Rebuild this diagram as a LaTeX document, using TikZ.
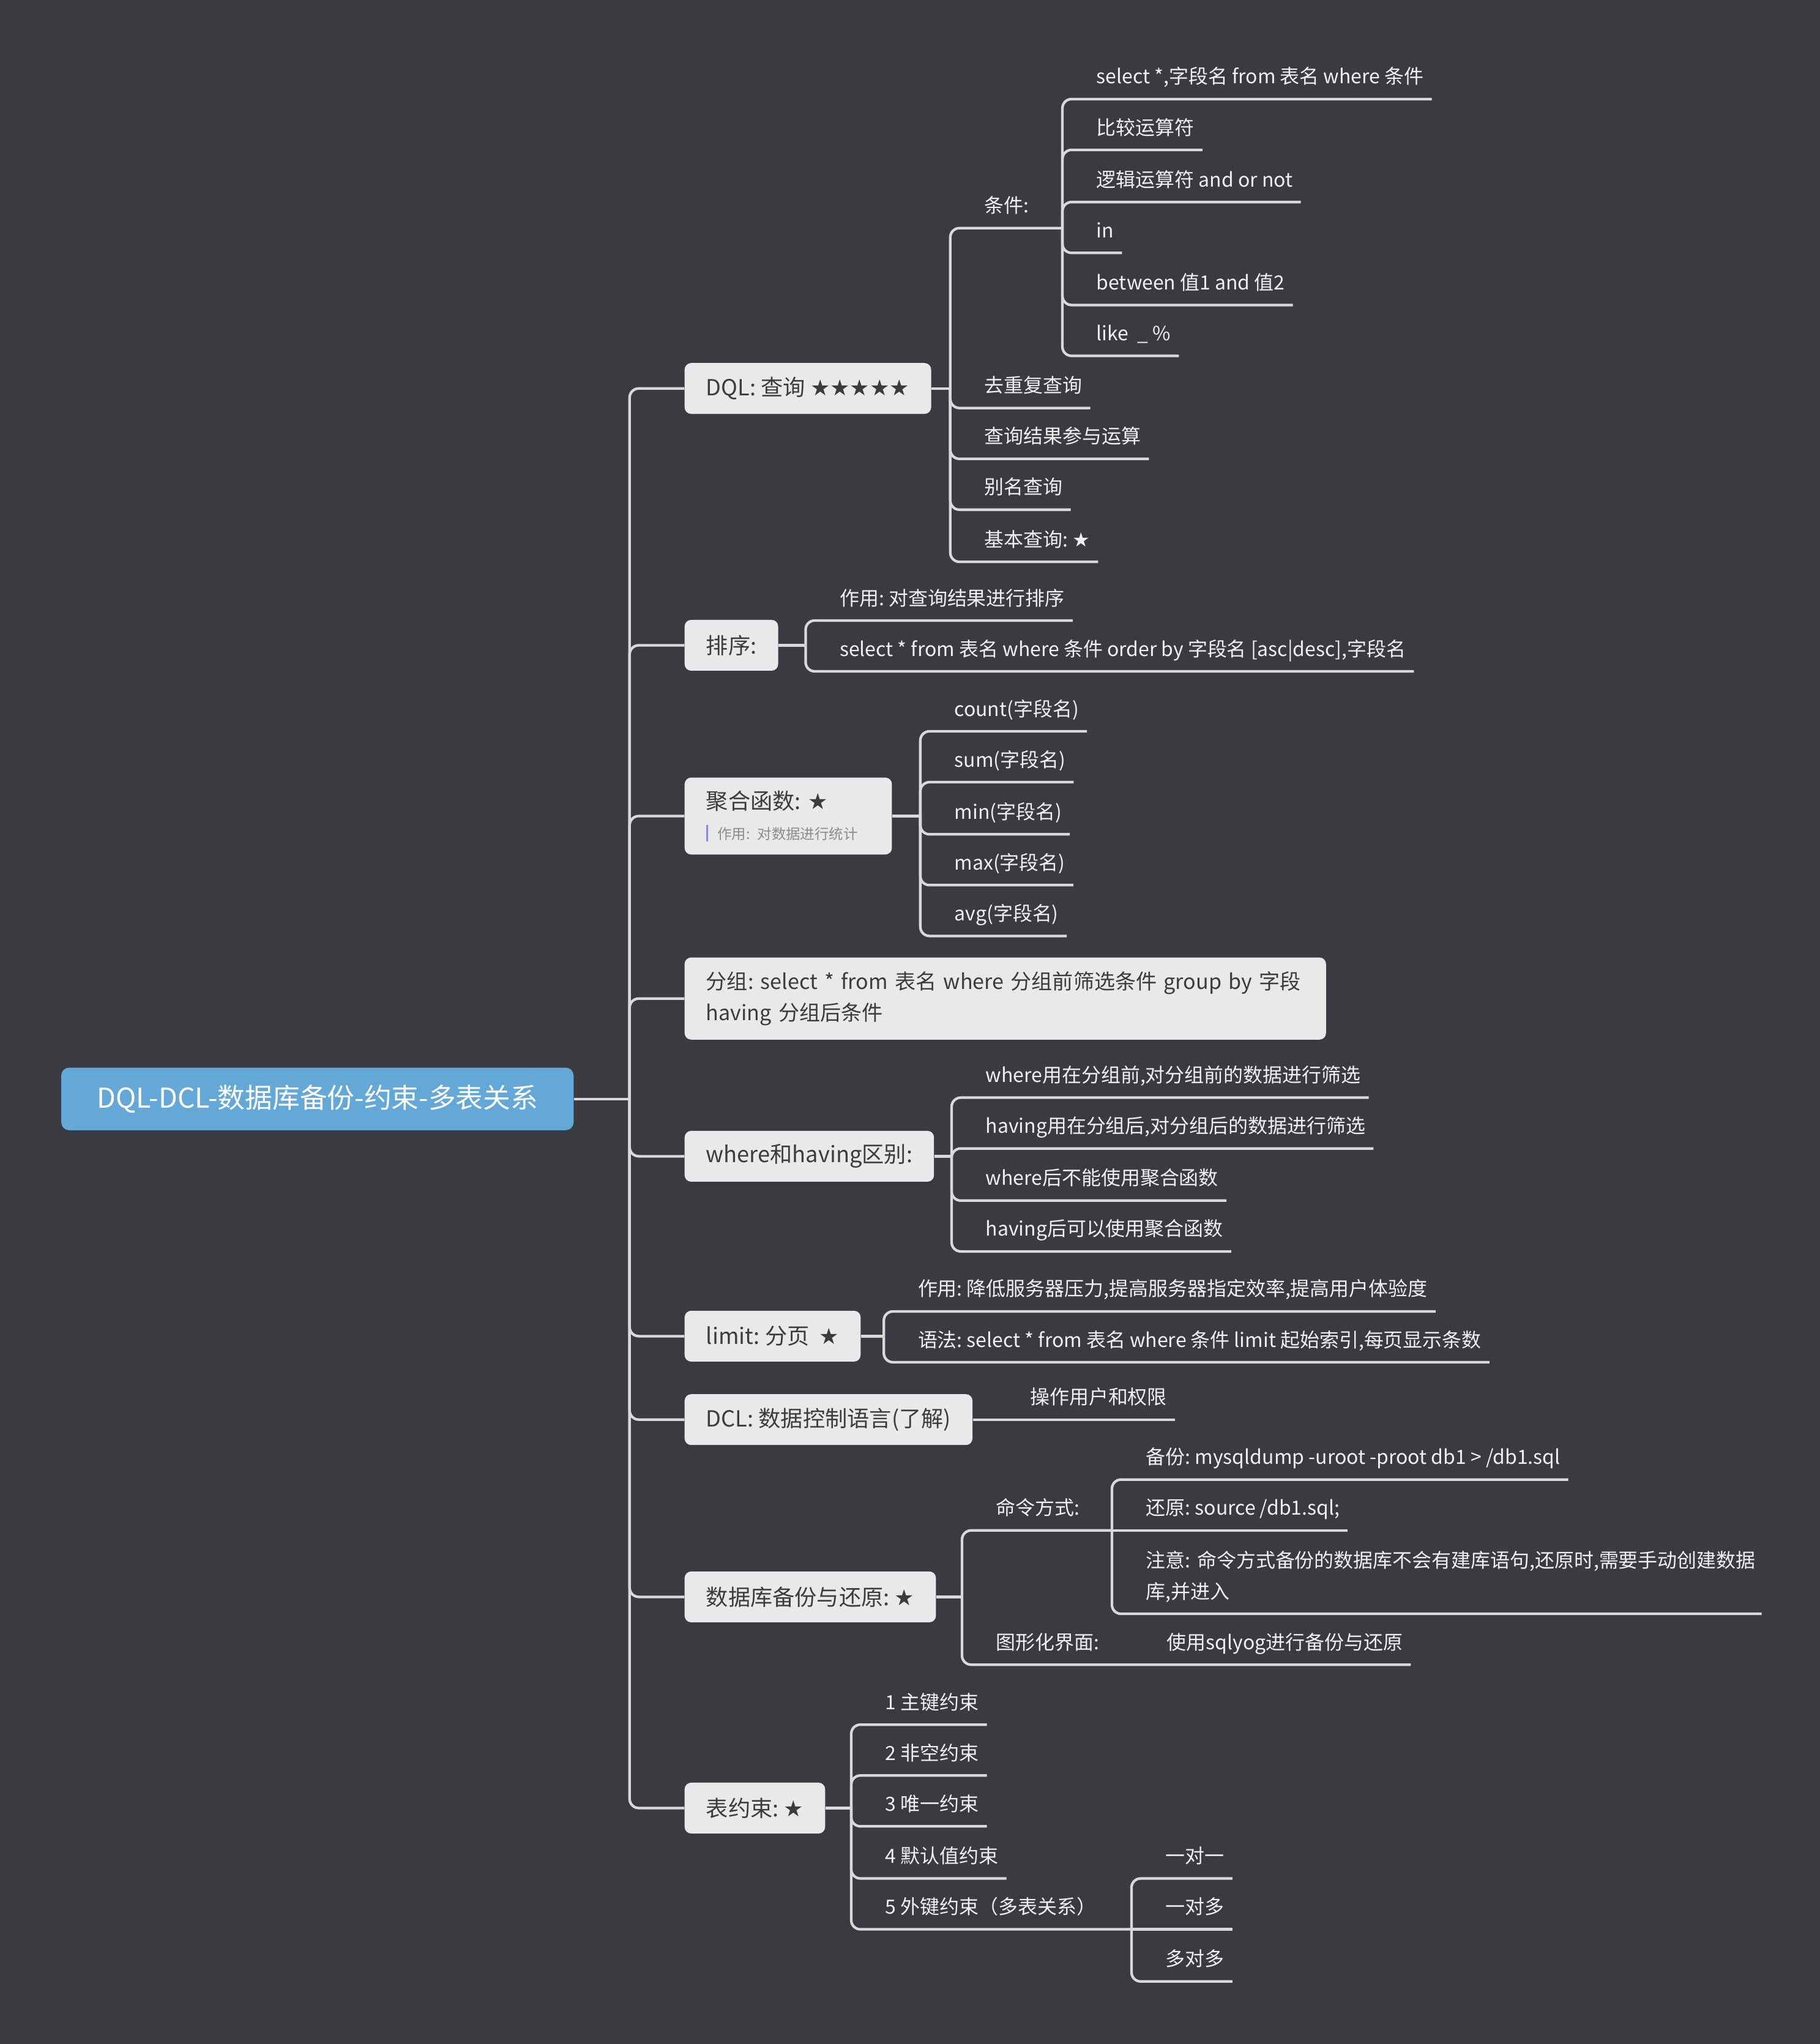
\documentclass[tikz,border=0pt]{standalone}
\usepackage{fontspec}
\setmainfont{Noto Sans CJK SC}
\newfontfamily\symfont{DejaVu Sans}
\frenchspacing
\definecolor{bgc}{RGB}{58,59,65}
\definecolor{linec}{RGB}{217,217,217}
\definecolor{boxc}{RGB}{233,233,235}
\definecolor{boxtext}{RGB}{60,60,62}
\definecolor{rootc}{RGB}{100,168,216}
\definecolor{leaftext}{RGB}{240,240,240}
\definecolor{notec}{RGB}{140,140,142}
\definecolor{barc}{RGB}{140,136,230}
\newcommand\notefont{\fontsize{11pt}{14pt}\selectfont\color{notec}}
\newcommand\starsign{{\symfont ★}}
\tikzset{
    link/.style={draw=linec, line width=2pt, rounded corners=7pt},
    root/.style={fill=rootc, text=white, rounded corners=6pt, minimum width=393pt,
        minimum height=48pt, font=\fontsize{21pt}{24pt}\selectfont},
    topic/.style={fill=boxc, text=boxtext, rounded corners=5pt, anchor=west,
        inner xsep=16.5pt, minimum height=39pt, font=\fontsize{17pt}{24pt}\selectfont},
    leaf/.style={anchor=south west, inner xsep=6pt, inner ysep=7.5pt, text height=11pt,
        text depth=4pt, text=leaftext, font=\fontsize{15pt}{24pt}\selectfont},
}
\begin{document}
\begin{tikzpicture}[x=1pt, y=-1pt]
    \fill[bgc](0, 0) rectangle (1396, 1568);
    \useasboundingbox (0, 0) rectangle (1396, 1568);
    % root and topics
    \node[root](root) at (243.5, 843){DQL-DCL-数据库备份-约束-多表关系};
    \coordinate (rootj) at (483, 843);
    \node[topic](dql) at (525, 298){DQL: 查询 \starsign\starsign\starsign\starsign\starsign};
    \node[topic](sort) at (525, 495){排序:};
    \node[topic, text width=126pt, minimum height=59pt, align=left](agg) at (525, 626)
        {聚合函数: \starsign\\[-1pt]{\notefont\textcolor{barc}{\rule[-2pt]{1.6pt}{13pt}}\hspace{7pt}作用: 对数据进行统计}};
    \node[topic, text width=459pt, minimum height=63pt, align=left, font=\fontsize{16pt}{24pt}\selectfont](grp) at (525, 766)
        {分组: select * from 表名 where 分组前筛选条件 group by 字段\\having 分组后条件};
    \node[topic](wh) at (525, 887){where和having区别:};
    \node[topic](lim) at (525, 1025){limit: 分页\ \ \starsign};
    \node[topic](dcl) at (525, 1089){DCL: 数据控制语言(了解)};
    \node[topic](bak) at (525, 1225){数据库备份与还原: \starsign};
    \node[topic](cons) at (525, 1387){表约束: \starsign};
    \draw[link](root.east)--(rootj);
    \foreach \t in {dql, sort, agg, grp, wh, lim, dcl, bak, cons}
        \draw[link](rootj)|-(\t.west);

    % DQL
    \coordinate (dqlj) at (729, 298);
    \coordinate (condj) at (815, 175);
    \node[leaf](cond) at (749, 175){条件:};
    \node[leaf](cond1) at (835, 76){select *,字段名 from 表名 where 条件};
    \node[leaf](cond2) at (835, 115){比较运算符};
    \node[leaf](cond3) at (835, 155){逻辑运算符 and or not};
    \node[leaf](cond4) at (835, 194){in};
    \node[leaf](cond5) at (835, 234){between 值1 and 值2};
    \node[leaf](cond6) at (835, 273){like\ \ \_ \%};
    \node[leaf](q2) at (749, 313){去重复查询};
    \node[leaf](q3) at (749, 352){查询结果参与运算};
    \node[leaf](q4) at (749, 391){别名查询};
    \node[leaf](q5) at (749, 431){基本查询: \starsign};
    \draw[link](dql.east)--(dqlj);
    \draw[link](dqlj)|-(condj);
    \foreach \c in {q2, q3, q4, q5} \draw[link](dqlj)|-(\c.south east);
    \foreach \c in {cond1, cond2, cond3, cond4, cond5, cond6} \draw[link](condj)|-(\c.south east);

    % sort
    \coordinate (sortj) at (618, 495);
    \node[leaf](sort1) at (638, 476){作用: 对查询结果进行排序};
    \node[leaf](sort2) at (638, 515){select * from 表名 where 条件 order by 字段名 [asc|desc],字段名};
    \draw[link](sort.east)--(sortj);
    \foreach \c in {sort1, sort2} \draw[link](sortj)|-(\c.south east);

    % aggregate
    \coordinate (aggj) at (706, 626);
    \node[leaf](agg1) at (726, 561){count(字段名)};
    \node[leaf](agg2) at (726, 600){sum(字段名)};
    \node[leaf](agg3) at (726, 640){min(字段名)};
    \node[leaf](agg4) at (726, 679){max(字段名)};
    \node[leaf](agg5) at (726, 718){avg(字段名)};
    \draw[link](agg.east)--(aggj);
    \foreach \c in {agg1, agg2, agg3, agg4, agg5} \draw[link](aggj)|-(\c.south east);

    % where / having
    \coordinate (whj) at (730, 887);
    \node[leaf](wh1) at (750, 842){where用在分组前,对分组前的数据进行筛选};
    \node[leaf](wh2) at (750, 881){having用在分组后,对分组后的数据进行筛选};
    \node[leaf](wh3) at (750, 921){where后不能使用聚合函数};
    \node[leaf](wh4) at (750, 960){having后可以使用聚合函数};
    \draw[link](wh.east)--(whj);
    \foreach \c in {wh1, wh2, wh3, wh4} \draw[link](whj)|-(\c.south east);

    % limit
    \coordinate (limj) at (678, 1025);
    \node[leaf](lim1) at (698, 1006){作用: 降低服务器压力,提高服务器指定效率,提高用户体验度};
    \node[leaf](lim2) at (698, 1045){语法: select * from 表名 where 条件 limit 起始索引,每页显示条数};
    \draw[link](lim.east)--(limj);
    \foreach \c in {lim1, lim2} \draw[link](limj)|-(\c.south east);

    % DCL
    \node[leaf](dcl1) at (784, 1089){操作用户和权限};
    \draw[link](dcl.east)--(dcl1.south east);

    % backup
    \coordinate (bakj) at (738, 1225);
    \coordinate (cmdj) at (853, 1174);
    \node[leaf](cmd) at (758, 1174){命令方式:};
    \node[leaf](cmd1) at (873, 1135){备份: mysqldump -uroot -proot db1 > /db1.sql};
    \node[leaf](cmd2) at (873, 1174){还原: source /db1.sql;};
    \node[leaf, text width=466pt, text depth=28pt, align=left](cmd3) at (873, 1238)
        {注意: 命令方式备份的数据库不会有建库语句,还原时,需要手动创建数据\\库,并进入};
    \node[leaf](gui) at (758, 1277){图形化界面:};
    \node[leaf](gui1) at (889, 1277){使用sqlyog进行备份与还原};
    \draw[link](bak.east)--(bakj);
    \draw[link](bakj)|-(cmdj);
    \draw[link](bakj)|-(gui.south east)--(gui1.south east);
    \draw[link](cmdj)--(cmd2.south east);
    \foreach \c in {cmd1, cmd3} \draw[link](cmdj)|-(\c.south east);

    % constraints
    \coordinate (consj) at (653, 1387);
    \coordinate (fkj) at (868, 1480);
    \node[leaf](cons1) at (673, 1323){1 主键约束};
    \node[leaf](cons2) at (673, 1362){2 非空约束};
    \node[leaf](cons3) at (673, 1401){3 唯一约束};
    \node[leaf](cons4) at (673, 1441){4 默认值约束};
    \node[leaf](cons5) at (673, 1480){5 外键约束（多表关系）};
    \node[leaf](fk1) at (888, 1441){一对一};
    \node[leaf](fk2) at (888, 1480){一对多};
    \node[leaf](fk3) at (888, 1520){多对多};
    \draw[link](cons.east)--(consj);
    \foreach \c in {cons1, cons2, cons3, cons4} \draw[link](consj)|-(\c.south east);
    \draw[link](consj)|-(fkj);
    \draw[link](fkj)--(fk2.south east);
    \foreach \c in {fk1, fk3} \draw[link](fkj)|-(\c.south east);
\end{tikzpicture}
\end{document}
